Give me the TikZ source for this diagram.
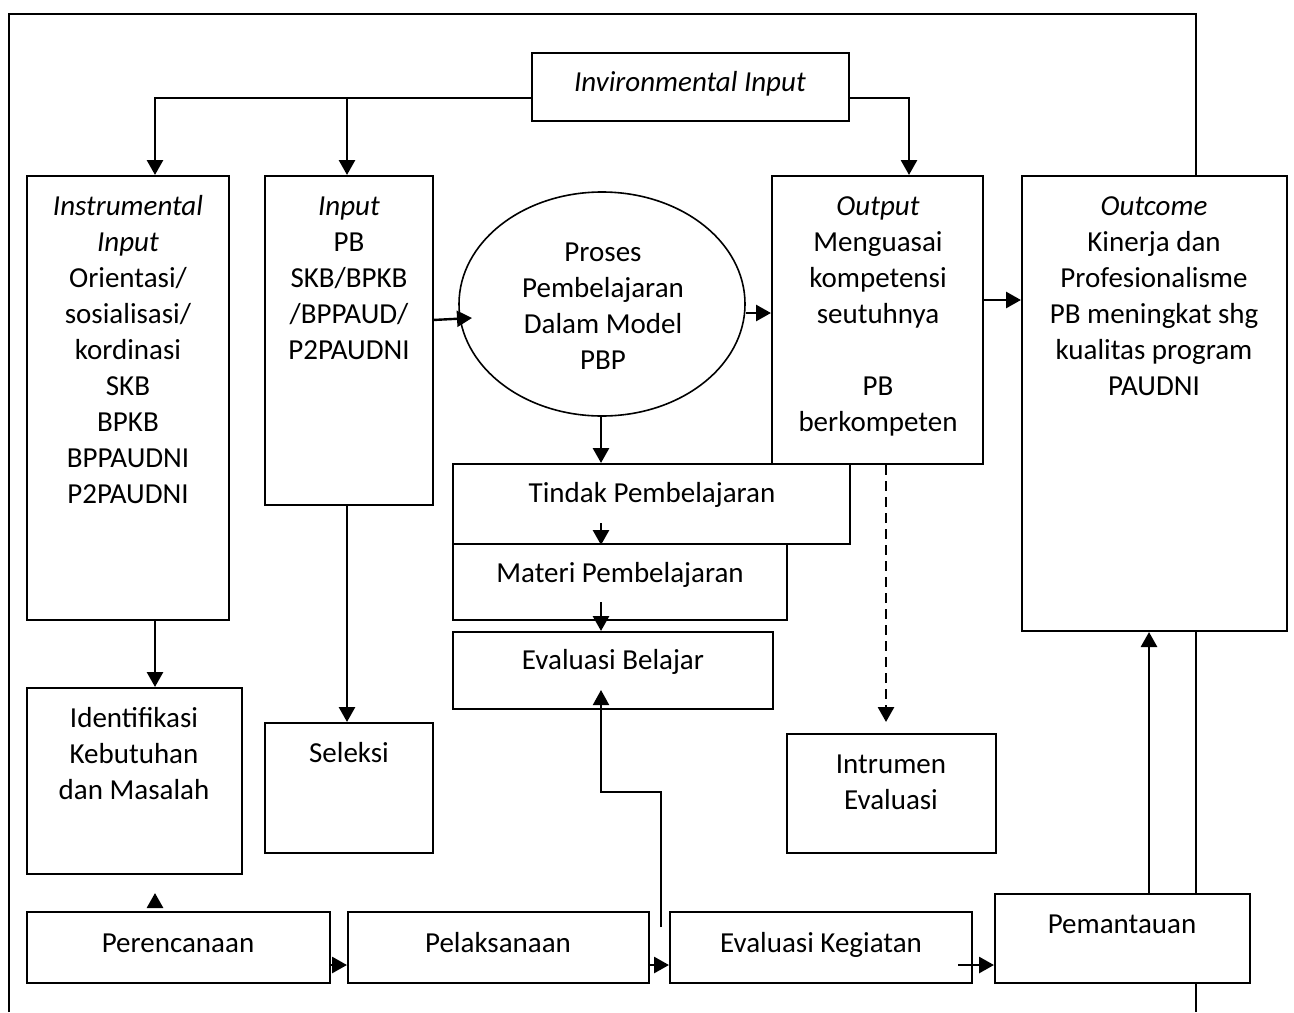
\documentclass[tikz,border=0pt]{standalone}
\usepackage{fontspec}
\setmainfont{Carlito}
\usetikzlibrary{arrows.meta,fit,shapes.geometric,calc}
\newcommand\fl{\rule{0pt}{13pt}}
\begin{document}
\begin{tikzpicture}[x=0.5pt,y=-0.5pt,
  box/.style={draw, line width=1pt, inner sep=0pt, fill=white},
  txt/.style={align=center, inner sep=0pt, font=\fontsize{14.5}{18}\selectfont},
  arr/.style={line width=1.4pt, -{Triangle[length=7.5pt,width=8pt]}},
  thinarr/.style={line width=1pt, -{Triangle[length=7.5pt,width=8pt]}},
  frameline/.style={line width=0.8pt}]
\useasboundingbox (0,0) rectangle (1294,1012);

% guides
\coordinate (xa) at (155,0);
\coordinate (xb) at (347,0);
\coordinate (xc) at (909,0);
\coordinate (xd) at (601,0);
\coordinate (xe) at (886,0);
\coordinate (xf) at (1149,0);
\coordinate (xg) at (661,0);
\coordinate (xr) at (1196,0);
\coordinate (yh) at (0,98);
\coordinate (yb) at (0,965);

% boxes
\node[box, fit={(532,53)(849,121)}] (env) {};
\node[box, fit={(27,176)(229,620)}] (inst) {};
\node[box, fit={(265,176)(433,505)}] (inp) {};
\node[draw, ellipse, line width=0.8pt, inner sep=0pt, minimum width=143pt, minimum height=112pt, fill=white] (ell) at (602,304) {};
\node[box, fit={(772,176)(983,464)}] (out) {};
\node[box, fit={(1022,176)(1287,631)}] (outc) {};
\node[box, fit={(453,464)(850,544)}] (tin) {};
\node[box, fit={(453,544)(787,620)}] (mat) {};
\node[box, fit={(453,632)(773,709)}] (evb) {};
\node[box, fit={(787,734)(996,853)}] (ins) {};
\node[box, fit={(27,688)(242,874)}] (idf) {};
\node[box, fit={(265,723)(433,853)}] (sel) {};
\node[box, fit={(27,912)(330,983)}] (per) {};
\node[box, fit={(348,912)(649,983)}] (pel) {};
\node[box, fit={(670,912)(972,983)}] (evk) {};
\node[box, fit={(995,894)(1250,983)}] (pem) {};

% frame
\coordinate (fbl) at (9,1012);
\coordinate (ftl) at (9,14);
\coordinate (ftr) at (1196,14);
\coordinate (fbr) at (1196,1012);
\draw[frameline] (fbl) -- (ftl) -- (ftr) -- (xr |- outc.north);
\draw[frameline] (xr |- outc.south) -- (xr |- pem.north);
\draw[frameline] (xr |- pem.south) -- (fbr);

% texts
\node[txt, anchor=base] (tenv) at (690,91) {\textit{Invironmental Input}};
\node[txt, anchor=north] (tinst) at (128,189) {\fl\textit{Instrumental}\\\textit{Input}\\Orientasi/\\sosialisasi/\\kordinasi\\SKB\\BPKB\\BPPAUDNI\\P2PAUDNI};
\node[txt, anchor=north] (tinp) at (349,189) {\fl\textit{Input}\\PB\\SKB/BPKB\\/BPPAUD/\\P2PAUDNI};
\node[txt, anchor=north] (tell) at (603,235) {\fl Proses\\Pembelajaran\\Dalam Model\\PBP};
\node[txt, anchor=north] (tout) at (878,189) {\fl\textit{Output}\\Menguasai\\kompetensi\\seutuhnya\\[18pt]PB\\berkompeten};
\node[txt, anchor=north] (toutc) at (1154,189) {\fl\textit{Outcome}\\Kinerja dan\\Profesionalisme\\PB meningkat shg\\kualitas program\\PAUDNI};
\node[txt, anchor=base] (ttin) at (652,502) {Tindak Pembelajaran};
\node[txt, anchor=base] (tmat) at (620,582) {Materi Pembelajaran};
\node[txt, anchor=base] (tevb) at (613,669) {Evaluasi Belajar};
\node[txt, anchor=north] (tidf) at (134,701) {\fl Identifikasi\\Kebutuhan\\dan Masalah};
\node[txt, anchor=base] (tsel) at (349,762) {Seleksi};
\node[txt, anchor=north] (tins) at (891,747) {\fl Intrumen\\Evaluasi};
\node[txt, anchor=base] (tper) at (178,952) {Perencanaan};
\node[txt, anchor=base] (tpel) at (498,952) {Pelaksanaan};
\node[txt, anchor=base] (tevk) at (821,952) {Evaluasi Kegiatan};
\node[txt, anchor=base] (tpem) at (1122,933) {Pemantauan};

% connectors
\draw[arr] (env.west |- yh) -| (xa |- inst.north);
\draw[arr] (xb |- yh) -- (xb |- inp.north);
\draw[arr] (env.east |- yh) -| (xc |- out.north);
\coordinate (ia) at (433,320);
\coordinate (ib) at (472,318);
\draw[line width=1.2pt, -{Triangle[length=7.5pt,width=8pt]}] (ia) -- (ib);
\coordinate (yo) at (0,313);
\draw[arr] (ell.east |- yo) -- (out.west |- yo);
\coordinate (yp) at (0,300);
\draw[arr] (out.east |- yp) -- (outc.west |- yp);
\draw[arr] (xd |- ell.south) -- (xd |- tin.north);
\coordinate (ti1) at (601,523);
\draw[arr] (ti1) -- (xd |- tin.south);
\coordinate (ma1) at (601,602);
\draw[arr] (ma1) -- (xd |- evb.north);
\coordinate (dsh) at (886,722);
\draw[arr, dash pattern=on 5pt off 3pt] (xe |- out.south) -- (dsh);
\draw[arr] (xa |- inst.south) -- (xa |- idf.north);
\draw[arr] (xb |- inp.south) -- (xb |- sel.north);
\coordinate (pt) at (155,893);
\draw[arr, shorten <=2pt] (xa |- per.north) -- (pt);
\draw[arr] (per.east |- yb) -- (pel.west |- yb);
\draw[arr] (pel.east |- yb) -- (evk.west |- yb);
\coordinate (ek1) at (958,965);
\draw[arr] (ek1) -- (pem.west |- yb);
\draw[arr] (xf |- pem.north) -- (xf |- outc.south);
\coordinate (eb0) at (661,927);
\coordinate (eb1) at (601,792);
\coordinate (eb2) at (601,690);
\draw[thinarr] (eb0) |- (eb1) -- (eb2);
\end{tikzpicture}
\end{document}
